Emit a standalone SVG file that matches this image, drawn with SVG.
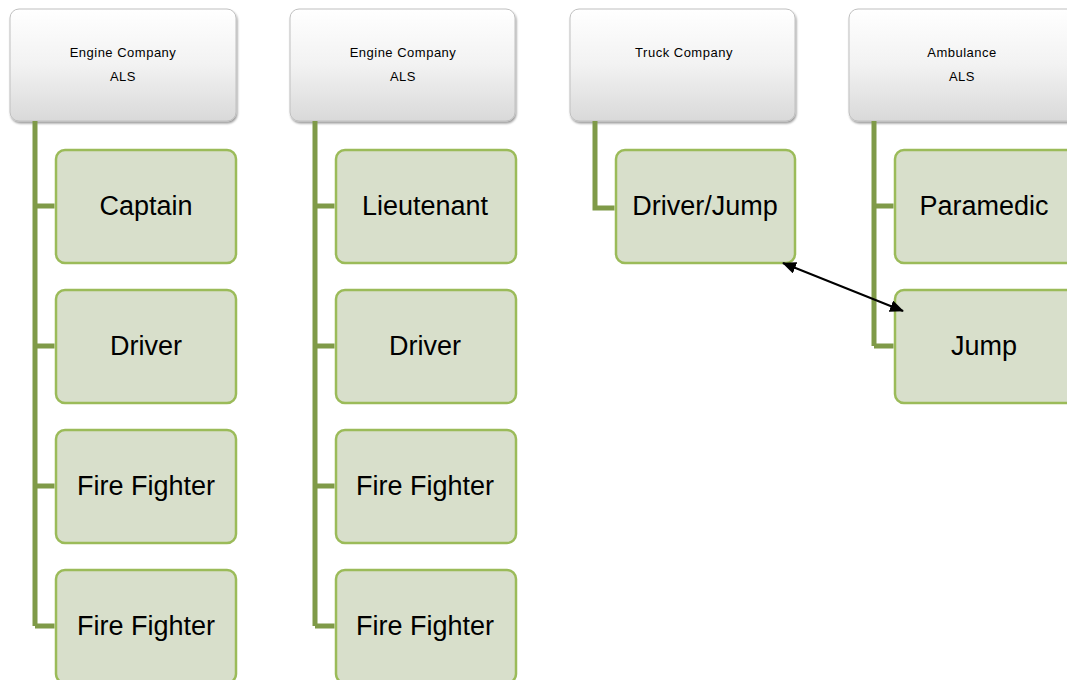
<svg xmlns="http://www.w3.org/2000/svg" width="1067" height="680" viewBox="0 0 1067 680">
<defs>
<linearGradient id="hg" x1="0" y1="0" x2="0" y2="1">
<stop offset="0" stop-color="#ffffff"/>
<stop offset="0.5" stop-color="#f2f2f2"/>
<stop offset="1" stop-color="#d9d9d9"/>
</linearGradient>
<filter id="sh" x="-5%" y="-5%" width="110%" height="115%">
<feDropShadow dx="1" dy="2" stdDeviation="1.3" flood-color="#000" flood-opacity="0.4"/>
</filter>
<marker id="ah" viewBox="0 0 14 12" refX="13" refY="6" markerWidth="14" markerHeight="12" orient="auto-start-reverse" markerUnits="userSpaceOnUse">
<path d="M0,0 L14,6 L0,12 z" fill="#000"/>
</marker>
<style>
.hdr{fill:url(#hg);stroke:#c0c0c0;stroke-width:1;filter:url(#sh)}
.ht{font-family:"Liberation Sans",Arial,sans-serif;font-size:13px;fill:#000;text-anchor:middle;letter-spacing:0.5px}
.ch{fill:#d8dfcb;stroke:#9bbb59;stroke-width:2.5}
.ct{font-family:"Liberation Sans",Arial,sans-serif;font-size:27px;fill:#000;text-anchor:middle}
.ln{fill:none;stroke:#7f9a48;stroke-width:5}
</style>
</defs>
<g id="h1"><rect class="hdr" x="10" y="9" width="226" height="112" rx="9"/><text class="ht" x="123" y="57">Engine Company</text><text class="ht" x="123" y="81">ALS</text></g>
<g id="h2"><rect class="hdr" x="290" y="9" width="225" height="112" rx="9"/><text class="ht" x="403" y="57">Engine Company</text><text class="ht" x="403" y="81">ALS</text></g>
<g id="h3"><rect class="hdr" x="570" y="9" width="225" height="112" rx="9"/><text class="ht" x="684" y="57">Truck Company</text></g>
<g id="h4"><rect class="hdr" x="849" y="9" width="230" height="112" rx="9"/><text class="ht" x="962" y="57">Ambulance</text><text class="ht" x="962" y="81">ALS</text></g>
<g id="c1a"><rect class="ch" x="56" y="150" width="180" height="113" rx="9"/><text class="ct" x="146" y="215">Captain</text></g>
<g id="c1b"><rect class="ch" x="56" y="290" width="180" height="113" rx="9"/><text class="ct" x="146" y="355">Driver</text></g>
<g id="c1c"><rect class="ch" x="56" y="430" width="180" height="113" rx="9"/><text class="ct" x="146" y="495">Fire Fighter</text></g>
<g id="c1d"><rect class="ch" x="56" y="570" width="180" height="113" rx="9"/><text class="ct" x="146" y="635">Fire Fighter</text></g>
<g id="c2a"><rect class="ch" x="336" y="150" width="180" height="113" rx="9"/><text class="ct" x="425" y="215">Lieutenant</text></g>
<g id="c2b"><rect class="ch" x="336" y="290" width="180" height="113" rx="9"/><text class="ct" x="425" y="355">Driver</text></g>
<g id="c2c"><rect class="ch" x="336" y="430" width="180" height="113" rx="9"/><text class="ct" x="425" y="495">Fire Fighter</text></g>
<g id="c2d"><rect class="ch" x="336" y="570" width="180" height="113" rx="9"/><text class="ct" x="425" y="635">Fire Fighter</text></g>
<g id="c3a"><rect class="ch" x="616" y="150" width="179" height="113" rx="9"/><text class="ct" x="705" y="215">Driver/Jump</text></g>
<g id="c4a"><rect class="ch" x="895" y="150" width="180" height="113" rx="9"/><text class="ct" x="984" y="215">Paramedic</text></g>
<g id="c4b"><rect class="ch" x="895" y="290" width="180" height="113" rx="9"/><text class="ct" x="984" y="355">Jump</text></g>
<g id="connectors">
<path class="ln" d="M35,121 V626 M35,206 H54.5 M35,346 H54.5 M35,486 H54.5 M35,626 H54.5"/>
<path class="ln" d="M315,121 V626 M315,206 H334.5 M315,346 H334.5 M315,486 H334.5 M315,626 H334.5"/>
<path class="ln" d="M595,121 V208 H614.5"/>
<path class="ln" d="M874,121 V346 M874,206 H893.5 M874,346 H893.5"/>
<line x1="783" y1="263" x2="903" y2="311" stroke="#000" stroke-width="2" marker-start="url(#ah)" marker-end="url(#ah)"/>
</g>
</svg>
